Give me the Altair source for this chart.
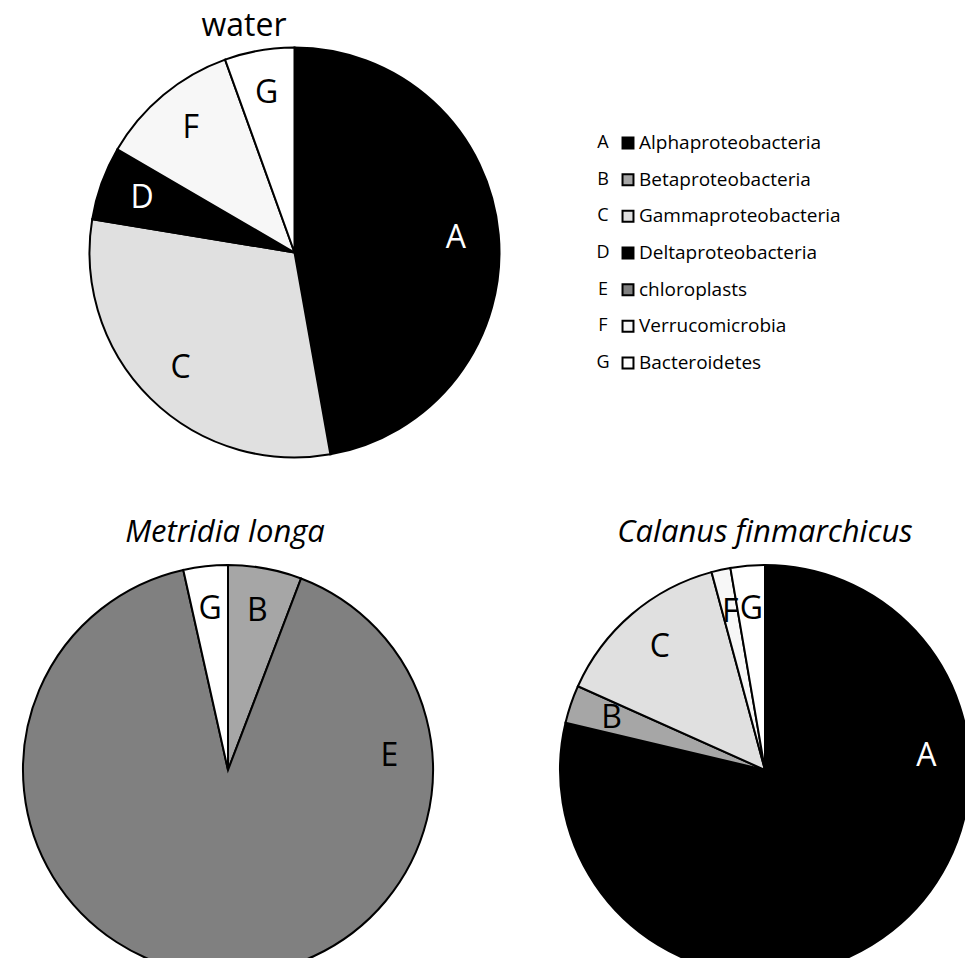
import altair as alt
import pandas as pd

letters = ["A", "B", "C", "D", "E", "F", "G"]
names = ["Alphaproteobacteria", "Betaproteobacteria", "Gammaproteobacteria",
         "Deltaproteobacteria", "chloroplasts", "Verrucomicrobia", "Bacteroidetes"]
colors = ["#000000", "#a6a6a6", "#e0e0e0", "#000000", "#808080", "#f7f7f7", "#ffffff"]

water_cats = ["A", "C", "D", "F", "G"]
water_vals = [47.2, 30.4, 5.8, 11.1, 5.5]

metridia_cats = ["B", "E", "G"]
metridia_vals = [5.8, 90.7, 3.5]

calanus_cats = ["A", "B", "C", "F", "G"]
calanus_vals = [78.7, 3.0, 14.1, 1.5, 2.7]

titles = ["water", "Metridia longa", "Calanus finmarchicus"]

FONT = "Open Sans"
R = 205
LR = 162

color_scale = alt.Scale(domain=letters, range=colors)
theta_scale = alt.Scale(domain=[0, 1])


def pie(cats, vals, cx, cy):
    df = pd.DataFrame({"cat": cats, "value": vals,
                       "idx": [letters.index(c) for c in cats]})
    arcs = alt.Chart(df).mark_arc(radius=R, stroke="black", strokeWidth=2).encode(
        theta=alt.Theta("value:Q", stack="normalize", scale=theta_scale),
        order=alt.Order("idx:Q", sort="ascending"),
        x=alt.value(cx), y=alt.value(cy),
        color=alt.Color("cat:N", scale=color_scale, legend=None),
    )
    # large slices get their label on the right side, others at slice middle
    labels = alt.Chart(df).transform_joinaggregate(
        total="sum(value)"
    ).transform_window(
        cum="sum(value)", sort=[alt.SortField("idx", order="ascending")]
    ).transform_calculate(
        mid="(datum.cum - datum.value / 2) / datum.total"
    ).transform_calculate(
        la="datum.value / datum.total > 0.6 ? 0.236 : datum.mid"
    ).mark_text(font=FONT, fontSize=32, align="center", baseline="middle").encode(
        theta=alt.Theta("la:Q", stack=False, scale=theta_scale),
        x=alt.value(cx), y=alt.value(cy),
        text="cat:N",
        radius=alt.value(LR),
        color=alt.condition("datum.cat == 'A' || datum.cat == 'D'",
                            alt.value("white"), alt.value("black")),
    )
    return arcs + labels


water = pie(water_cats, water_vals, 286.5, 244.5)
metridia = pie(metridia_cats, metridia_vals, 220, 762)
calanus = pie(calanus_cats, calanus_vals, 757, 762)

t_water = alt.Chart(pd.DataFrame({"t": [titles[0]]})).mark_text(
    font=FONT, fontSize=32, align="center", baseline="alphabetic", color="black"
).encode(text="t:N", x=alt.value(236), y=alt.value(28))
t_met = alt.Chart(pd.DataFrame({"t": [titles[1]]})).mark_text(
    font=FONT, fontSize=31, fontStyle="italic", align="center",
    baseline="alphabetic", color="black"
).encode(text="t:N", x=alt.value(217), y=alt.value(534))
t_cal = alt.Chart(pd.DataFrame({"t": [titles[2]]})).mark_text(
    font=FONT, fontSize=31, fontStyle="italic", align="center",
    baseline="alphabetic", color="black"
).encode(text="t:N", x=alt.value(757), y=alt.value(534))

leg_df = pd.DataFrame({"letter": letters, "name": names})
yenc = alt.Y("letter:N", scale=alt.Scale(domain=letters, range=[135, 355], padding=0),
             axis=None)
leg_letters = alt.Chart(leg_df).mark_text(
    font=FONT, fontSize=18, align="center", baseline="middle", color="black"
).encode(y=yenc, text="letter:N", x=alt.value(595))
leg_squares = alt.Chart(leg_df).mark_square(
    size=120, stroke="black", strokeWidth=2, opacity=1
).encode(y=yenc, x=alt.value(620),
         fill=alt.Fill("letter:N", scale=color_scale, legend=None))
leg_names = alt.Chart(leg_df).mark_text(
    font=FONT, fontSize=19, align="left", baseline="middle", color="black"
).encode(y=yenc, text="name:N", x=alt.value(631))

chart = alt.layer(
    water, metridia, calanus, t_water, t_met, t_cal,
    leg_letters, leg_squares, leg_names
).properties(
    width=957, height=950, padding=0, autosize="none",
    view=alt.ViewBackground(stroke=None, strokeOpacity=0, fill="white"),
).configure_view(stroke=None, strokeOpacity=0).configure(background="white")

chart.save("out.html", embed_options={"renderer": "svg", "actions": False})
